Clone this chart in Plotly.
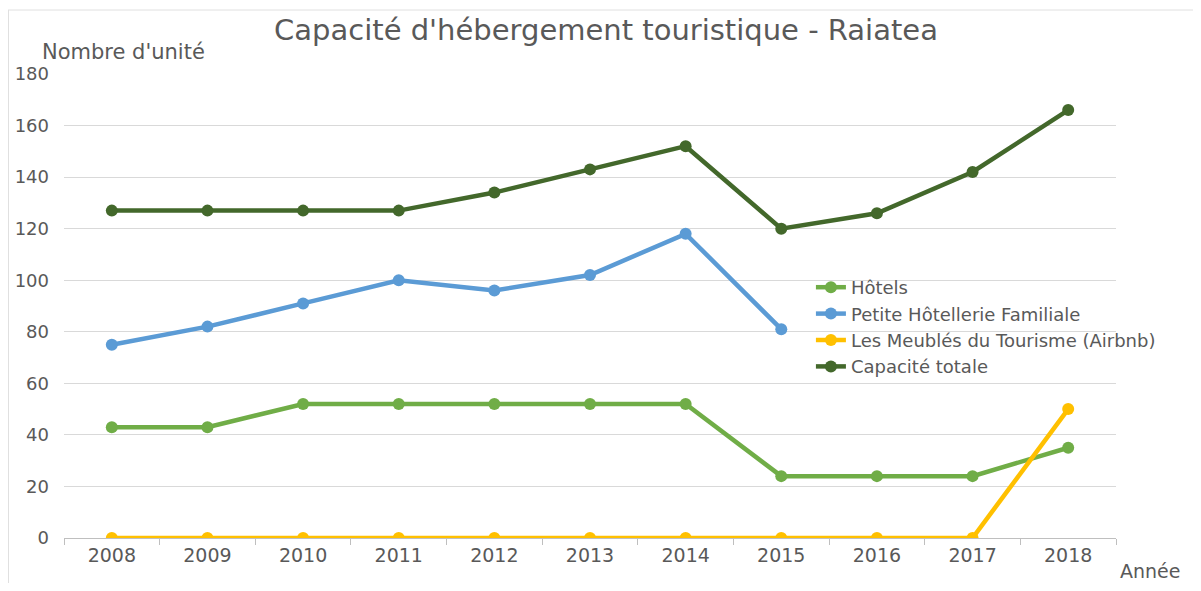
import plotly.graph_objects as go

years = ["2008", "2009", "2010", "2011", "2012", "2013", "2014", "2015", "2016", "2017", "2018"]
hotels = [43, 43, 52, 52, 52, 52, 52, 24, 24, 24, 35]
petite_hotellerie = [75, 82, 91, 100, 96, 102, 118, 81, None, None, None]
meubles_airbnb = [0, 0, 0, 0, 0, 0, 0, 0, 0, 0, 50]
capacite_totale = [127, 127, 127, 127, 134, 143, 152, 120, 126, 142, 166]
y_ticks = [0, 20, 40, 60, 80, 100, 120, 140, 160, 180]

series = [
    ("Hôtels", hotels, "#70AD47"),
    ("Petite Hôtellerie Familiale", petite_hotellerie, "#5B9BD5"),
    ("Les Meublés du Tourisme (Airbnb)", meubles_airbnb, "#FFC000"),
    ("Capacité totale", capacite_totale, "#43682B"),
]

FONT = "DejaVu Sans"
GRAY = "#595959"

# page offset: the figure is drawn 8px from the window's top-left corner
W, H = 1185, 575
PL, PT, PR, PB = 56, 66, 1108, 530
PW, PH = PR - PL, PB - PT


def px(sx):
    return (sx - 8 - PL) / PW


def py(sy):
    return (PB - (sy - 8)) / PH


fig = go.Figure()
for name, vals, color in series:
    fig.add_trace(go.Scatter(
        x=years, y=vals, name=name, mode="lines+markers",
        line=dict(color=color, width=4.5),
        marker=dict(color=color, size=12),
        connectgaps=False,
    ))

fig.update_layout(
    width=W, height=H,
    margin=dict(l=PL, r=W - PR, t=PT, b=H - PB, autoexpand=False),
    paper_bgcolor="white", plot_bgcolor="white",
    font=dict(family=FONT, color=GRAY, size=17),
    title=dict(text="Capacité d'hébergement touristique - Raiatea",
               x=598 / W, xanchor="center", y=1 - 22 / H, yanchor="middle",
               font=dict(family=FONT, size=29, color=GRAY)),
    showlegend=True,
    legend=dict(x=0.71, y=py(269), xanchor="left", yanchor="top",
                bgcolor="rgba(0,0,0,0)", font=dict(size=18, color=GRAY),
                itemwidth=30, tracegroupgap=0),
    xaxis=dict(type="category", range=[-0.5, 10.5], showgrid=False, automargin=False,
               showline=True, linecolor="#BFBFBF", linewidth=1,
               ticks="outside", tickson="boundaries", ticklen=6, tickcolor="#BFBFBF",
               tickfont=dict(size=19, color=GRAY)),
    yaxis=dict(range=[0, 180], tickvals=y_ticks, showgrid=True, gridcolor="#D9D9D9",
               gridwidth=1, zeroline=False, showline=False, automargin=False,
               tickfont=dict(size=18, color=GRAY), ticklabelstandoff=14),
    annotations=[
        dict(text="Nombre d'unité", xref="paper", yref="paper",
             x=px(40), y=py(52), xanchor="left", yanchor="middle",
             showarrow=False, font=dict(size=21, color=GRAY)),
        dict(text="Année", xref="paper", yref="paper",
             x=px(1118), y=py(571), xanchor="left", yanchor="middle",
             showarrow=False, font=dict(size=19, color=GRAY)),
    ],
    shapes=[
        dict(type="line", xref="paper", yref="paper",
             x0=px(8), x1=px(1201), y0=py(10), y1=py(10),
             line=dict(color="#E0E0E0", width=1)),
        dict(type="line", xref="paper", yref="paper",
             x0=px(8.5), x1=px(8.5), y0=py(10), y1=py(591),
             line=dict(color="#E0E0E0", width=1)),
    ],
)

fig.write_html("out.html")
